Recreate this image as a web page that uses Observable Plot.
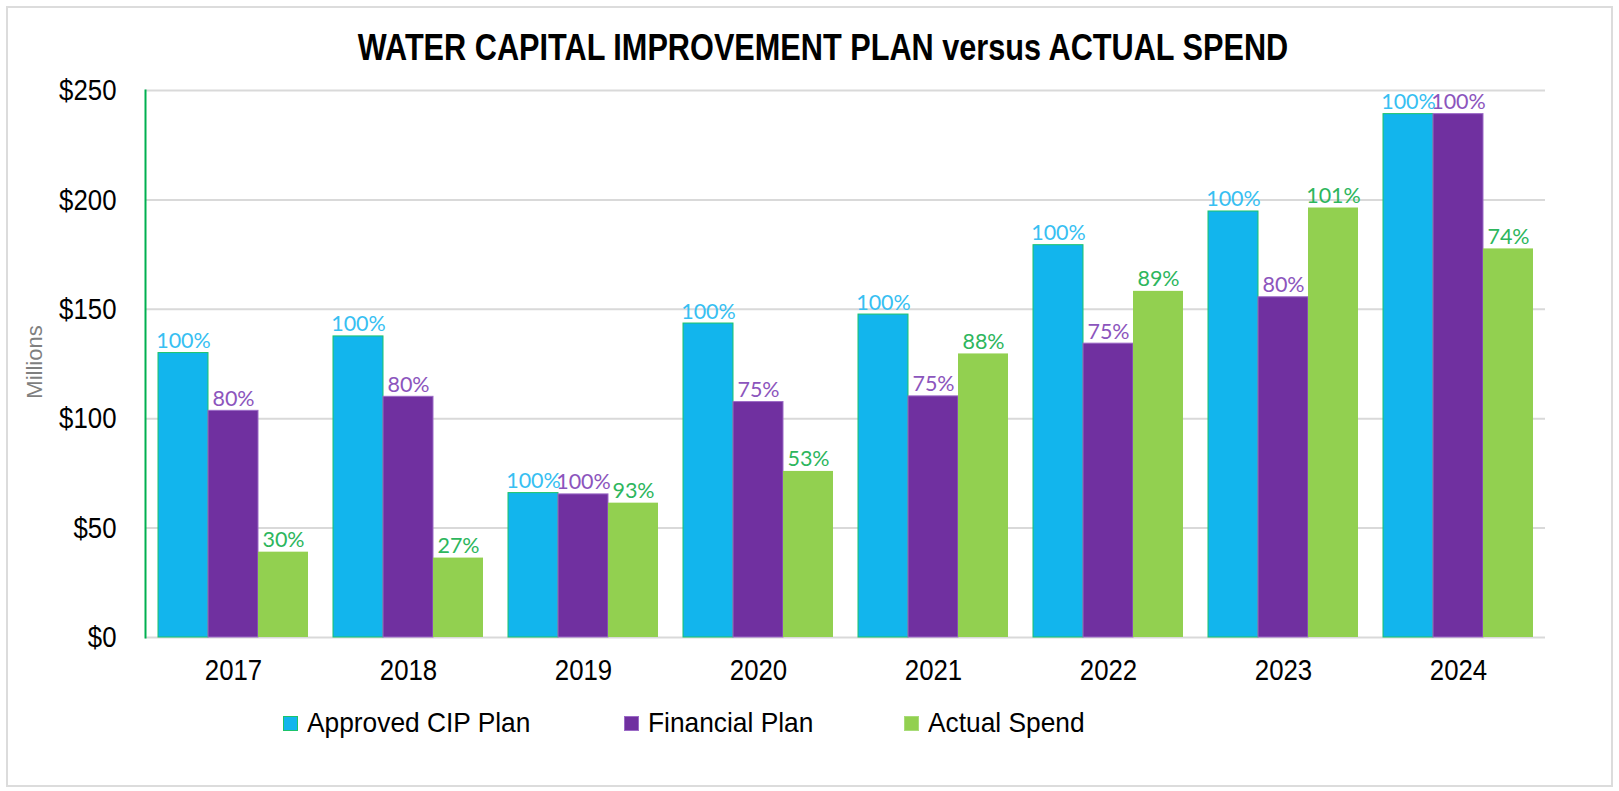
<!DOCTYPE html>
<html>
<head>
<meta charset="utf-8">
<script src="https://cdn.jsdelivr.net/npm/d3@7"></script>
<script src="https://cdn.jsdelivr.net/npm/@observablehq/plot@0.6"></script>
<style>
  html, body { margin: 0; padding: 0; background: #fff; }
  #wrap { position: relative; width: 1619px; height: 791px; overflow: hidden; background: #fff; }
  #border { position: absolute; left: 6px; top: 6px; width: 1603px; height: 777px; border: 2px solid #dcdcdc; box-sizing: content-box; }
  .narrow { font-family: "Liberation Sans Narrow", "Arial Narrow", "Liberation Sans", Arial, sans-serif; }
  #title { position: absolute; left: 0; width: 1646px; top: 30px; text-align: center; font-size: 36px; line-height: 36px; font-weight: bold; color: #000; white-space: nowrap; transform: scaleX(0.852); transform-origin: 823px 50%; }
  #chart { position: absolute; left: 0; top: 0; }
  #ylabel { position: absolute; left: 35px; top: 362px; transform: translate(-50%, -50%) rotate(-90deg); font-family: "Liberation Sans", Arial, sans-serif; font-size: 22px; color: #7f7f7f; white-space: nowrap; }
  #legend { position: absolute; left: 0; top: 709px; width: 1619px; height: 30px; font-size: 28px; line-height: 28px; color: #000; }
  .item { position: absolute; top: 0; display: flex; align-items: center; white-space: nowrap; }
  .sw { width: 15px; height: 15px; margin-right: 9px; box-sizing: border-box; flex: none; }
  .lt { display: inline-block; transform: scaleX(0.94); transform-origin: 0 50%; }
</style>
</head>
<body>
<div id="wrap">
  <div id="border"></div>
  <div id="chart"></div>
  <div id="title" class="narrow">WATER CAPITAL IMPROVEMENT PLAN versus ACTUAL SPEND</div>
  <div id="ylabel">Millions</div>
  <div id="legend" class="narrow"></div>
</div>
<script>
// ---- data (millions of dollars) ----
const years = ["2017", "2018", "2019", "2020", "2021", "2022", "2023", "2024"];
const approvedCIP = [130, 137.6, 66, 143.5, 147.6, 179.3, 194.7, 239.2];
const financialPlan = [103.6, 110, 65.4, 107.6, 110.2, 134.3, 155.5, 239.2];
const actualSpend = [39, 36.3, 61.4, 75.9, 129.6, 158.2, 196.3, 177.6];
// percentage labels shown above bars
const approvedPct = ["100%", "100%", "100%", "100%", "100%", "100%", "100%", "100%"];
const financialPct = ["80%", "80%", "100%", "75%", "75%", "75%", "80%", "100%"];
const actualPct = ["30%", "27%", "93%", "53%", "88%", "89%", "101%", "74%"];
const yTicks = [0, 50, 100, 150, 200, 250];
const seriesNames = ["Approved CIP Plan", "Financial Plan", "Actual Spend"];

const colors = {
  approved: "#12b5ed", approvedStroke: "#1cc36a", approvedText: "#38bff2",
  financial: "#7030a0", financialStroke: "#9b6ac6", financialText: "#8c55bd",
  actual: "#92d050", actualText: "#2db65d"
};

const rows = years.map((year, i) => ({
  year,
  approved: approvedCIP[i], financial: financialPlan[i], actual: actualSpend[i],
  approvedPct: approvedPct[i], financialPct: financialPct[i], actualPct: actualPct[i]
}));

const labelFont = "Lato, 'Noto Sans', sans-serif";

const chart = Plot.plot({
  width: 1619,
  height: 791,
  marginLeft: 145,
  marginRight: 74,
  marginTop: 90,
  marginBottom: 154,
  style: {
    fontFamily: "'Liberation Sans Narrow', 'Arial Narrow', 'Liberation Sans', Arial, sans-serif",
    fontSize: "30px",
    color: "#000",
    background: "transparent",
    overflow: "visible"
  },
  x: { domain: years, paddingInner: 25 / 175, paddingOuter: 12.5 / 175, tickSize: 0, tickPadding: 21, label: null },
  y: { domain: [0, 250], ticks: yTicks, tickFormat: d => "$" + d, tickSize: 0, tickPadding: 29, label: null },
  marks: [
    Plot.ruleY(yTicks, { stroke: "#d9d9d9", strokeWidth: 2 }),
    Plot.barY(rows, { x: "year", y: "approved", fill: colors.approved, stroke: colors.approvedStroke, strokeWidth: 1, insetRight: 100 }),
    Plot.barY(rows, { x: "year", y: "financial", fill: colors.financial, stroke: colors.financialStroke, strokeWidth: 1, insetLeft: 50, insetRight: 50 }),
    Plot.barY(rows, { x: "year", y: "actual", fill: colors.actual, insetLeft: 100 }),
    Plot.text(rows, { x: "year", y: "approved", text: "approvedPct", dx: -50, dy: -5, lineAnchor: "bottom", fill: colors.approvedText, fontSize: 21.5, fontFamily: labelFont }),
    Plot.text(rows, { x: "year", y: "financial", text: "financialPct", dx: 0, dy: -5, lineAnchor: "bottom", fill: colors.financialText, fontSize: 21.5, fontFamily: labelFont }),
    Plot.text(rows, { x: "year", y: "actual", text: "actualPct", dx: 50, dy: -5, lineAnchor: "bottom", fill: colors.actualText, fontSize: 21.5, fontFamily: labelFont }),
    Plot.frame({ anchor: "left", stroke: "#00b050", strokeWidth: 2 })
  ]
});
document.getElementById("chart").appendChild(chart);

// condense axis tick labels (Arial Narrow look) around their anchor point
const condense = 0.86;
chart.querySelectorAll('g[aria-label^="x-axis"] text, g[aria-label^="y-axis"] text').forEach(t => {
  const x = parseFloat(t.getAttribute("x") || 0);
  const prev = t.getAttribute("transform") || "";
  t.setAttribute("transform", `${prev} translate(${x},0) scale(${condense},1) translate(${-x},0)`.trim());
});

// legend
const legendColors = [
  [colors.approved, colors.approvedStroke],
  [colors.financial, colors.financialStroke],
  [colors.actual, "#a8dc78"]
];
const legendLeft = [283, 624, 904];
const legend = document.getElementById("legend");
seriesNames.forEach((name, i) => {
  const item = document.createElement("div");
  item.className = "item";
  item.style.left = legendLeft[i] + "px";
  const sw = document.createElement("span");
  sw.className = "sw";
  sw.style.background = legendColors[i][0];
  sw.style.border = "1.5px solid " + legendColors[i][1];
  const t = document.createElement("span");
  t.className = "lt";
  t.textContent = name;
  item.appendChild(sw);
  item.appendChild(t);
  legend.appendChild(item);
});
</script>
</body>
</html>
